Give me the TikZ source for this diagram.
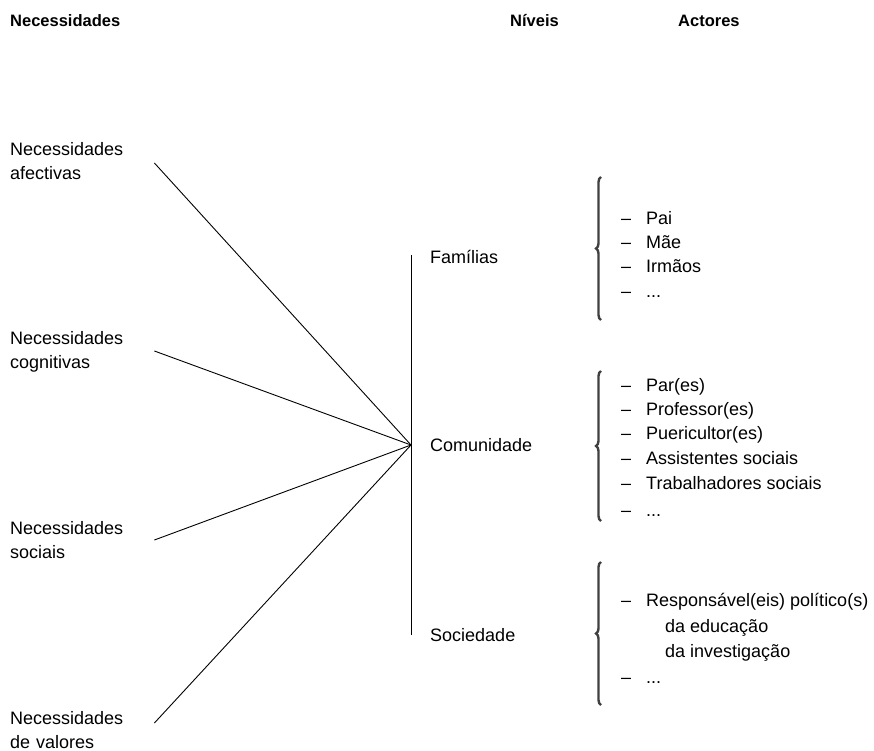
\documentclass[tikz,border=0pt]{standalone}
\usepackage{fontspec}
\setmainfont{Liberation Sans}
\usetikzlibrary{decorations.pathreplacing}
\newcommand{\fs}{\fontsize{18}{24}\selectfont}
\newcommand{\fh}{\fontsize{16.5}{20}\selectfont\bfseries}
\tikzset{
  lab/.style={anchor=base west, inner sep=0pt, font=\fs},
  head/.style={anchor=base west, inner sep=0pt, font=\fh},
  need/.style={anchor=north west, inner sep=0pt, align=left, font=\fs, text width=144pt},
  link/.style={draw=black, line width=0.9pt},
  bracestyle/.style={draw=black!75, line width=2.4pt, decorate, decoration={brace, amplitude=5pt}},
}
\newcommand{\itm}[1]{\makebox[25pt][l]{--}#1}
\begin{document}
\begin{tikzpicture}[x=1pt,y=-1pt]
\useasboundingbox[fill=white] (0,0) rectangle (874,751);
% headers
\node[head] (hn) at (10,27) {Necessidades};
\node[head] (hv) at (510,27) {Níveis};
\node[head] (ha) at (678,27) {Actores};
% needs
\node[need] (n1) at (10,142) {Necessidades\\afectivas};
\node[need] (n2) at (10,331) {Necessidades\\cognitivas};
\node[need] (n3) at (10,521) {Necessidades\\sociais};
\node[need] (n4) at (10,711) {Necessidades\\de valores};
% levels
\coordinate (vtop) at (411,255);
\coordinate (vbot) at (411,635);
\coordinate (c) at (411,445);
\draw[link] (vtop) -- (vbot);
\draw[link] (n1.east |- 0,163) -- (c);
\draw[link] (n2.east |- 0,351) -- (c);
\draw[link] (n3.east |- 0,540) -- (c);
\draw[link] (n4.east |- 0,723) -- (c);
\node[lab] (fam) at (430,263) {Famílias};
\node[lab] (com) at (430,451) {Comunidade};
\node[lab] (soc) at (430,641) {Sociedade};
% braces
\draw[bracestyle] (601,320) -- (601,177);
\draw[bracestyle] (601,521) -- (601,371);
\draw[bracestyle] (601,705) -- (601,562);
% Familias actors
\node[lab] (f1) at (621,224) {\itm{Pai}};
\node[lab] (f2) at (621,248) {\itm{Mãe}};
\node[lab] (f3) at (621,272) {\itm{Irmãos}};
\node[lab] (f4) at (621,297) {\itm{...}};
% Comunidade actors
\node[lab] (c1) at (621,391) {\itm{Par(es)}};
\node[lab] (c2) at (621,415) {\itm{Professor(es)}};
\node[lab] (c3) at (621,439) {\itm{Puericultor(es)}};
\node[lab] (c4) at (621,464) {\itm{Assistentes sociais}};
\node[lab] (c5) at (621,489) {\itm{Trabalhadores sociais}};
\node[lab] (c6) at (621,516) {\itm{...}};
% Sociedade actors
\node[lab] (s1) at (621,606) {\itm{Responsável(eis) político(s)}};
\node[lab] (s2) at (665,632) {da educação};
\node[lab] (s3) at (665,657) {da investigação};
\node[lab] (s4) at (621,683) {\itm{...}};
\end{tikzpicture}
\end{document}
